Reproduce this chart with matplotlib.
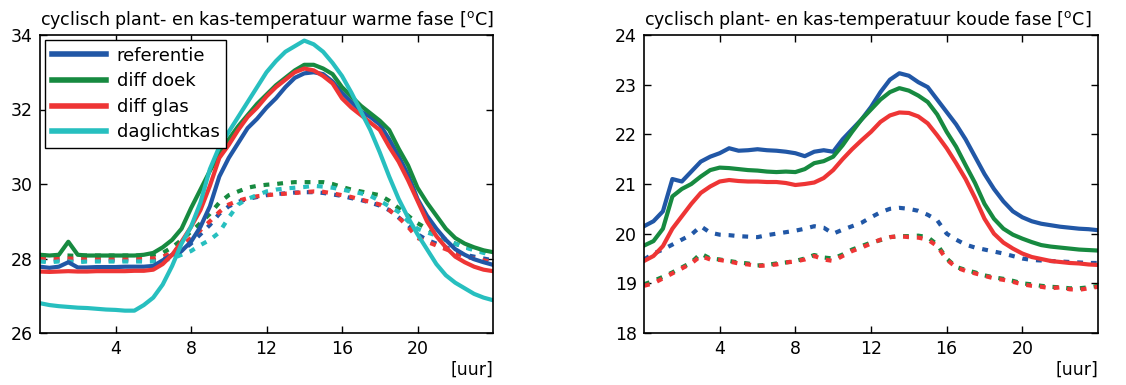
import numpy as np
import matplotlib
matplotlib.use("Agg")
import matplotlib.pyplot as plt

# ---------------- data ----------------
hours = np.arange(0, 24.01, 0.5)

# warm phase: plant temperature (solid)
warm_ref_plant = [27.78, 27.75, 27.78, 27.9, 27.76, 27.76, 27.77, 27.77, 27.77, 27.78, 27.78, 27.78,
                  27.8, 27.95, 28.1, 28.2, 28.45, 28.85, 29.4, 30.2, 30.7, 31.1, 31.5, 31.75,
                  32.05, 32.3, 32.6, 32.85, 32.97, 33.0, 32.95, 32.75, 32.45, 32.2, 31.95, 31.8,
                  31.6, 31.2, 30.75, 30.25, 29.6, 29.15, 28.8, 28.5, 28.25, 28.1, 27.98, 27.9, 27.83]
warm_doek_plant = [28.1, 28.08, 28.1, 28.45, 28.1, 28.08, 28.08, 28.08, 28.08, 28.08, 28.08, 28.1,
                   28.15, 28.3, 28.5, 28.8, 29.35, 29.85, 30.35, 30.8, 31.2, 31.55, 31.85, 32.15,
                   32.4, 32.65, 32.85, 33.05, 33.2, 33.2, 33.1, 32.95, 32.6, 32.35, 32.1, 31.9,
                   31.7, 31.45, 30.95, 30.5, 29.9, 29.5, 29.15, 28.8, 28.55, 28.4, 28.3, 28.22, 28.17]
warm_glas_plant = [27.65, 27.64, 27.65, 27.66, 27.65, 27.65, 27.66, 27.66, 27.66, 27.66, 27.67, 27.67,
                   27.7, 27.85, 28.1, 28.45, 28.85, 29.3, 29.95, 30.7, 31.05, 31.45, 31.8, 32.05,
                   32.35, 32.6, 32.8, 33.0, 33.1, 33.05, 32.9, 32.7, 32.3, 32.05, 31.85, 31.65,
                   31.45, 31.0, 30.6, 30.1, 29.55, 29.0, 28.6, 28.3, 28.05, 27.9, 27.78, 27.7, 27.66]
warm_dag_plant = [26.8, 26.75, 26.72, 26.7, 26.68, 26.67, 26.65, 26.63, 26.62, 26.6, 26.6, 26.75,
                  26.95, 27.3, 27.8, 28.4, 28.85, 29.5, 30.4, 31.0, 31.4, 31.8, 32.2, 32.6,
                  33.0, 33.3, 33.55, 33.7, 33.85, 33.75, 33.55, 33.25, 32.9, 32.45, 31.95, 31.45,
                  30.85, 30.2, 29.6, 29.1, 28.65, 28.25, 27.85, 27.55, 27.35, 27.2, 27.05, 26.95, 26.88]

# warm phase: greenhouse air temperature (dotted)
warm_ref_kas = [27.95, 27.94, 27.95, 27.95, 27.94, 27.95, 27.95, 27.95, 27.95, 27.95, 27.95, 27.95,
                27.95, 27.98, 28.05, 28.2, 28.4, 28.65, 28.9, 29.2, 29.4, 29.52, 29.6, 29.65,
                29.7, 29.73, 29.75, 29.77, 29.78, 29.78, 29.76, 29.72, 29.68, 29.62, 29.57, 29.5,
                29.42, 29.3, 29.1, 28.9, 28.65, 28.5, 28.4, 28.3, 28.2, 28.1, 28.05, 28.0, 27.95]
warm_doek_kas = [28.08, 28.07, 28.08, 28.08, 28.07, 28.08, 28.08, 28.08, 28.08, 28.08, 28.08, 28.08,
                 28.1, 28.15, 28.3, 28.5, 28.72, 28.95, 29.2, 29.5, 29.7, 29.8, 29.9, 29.95,
                 29.98, 30.0, 30.03, 30.05, 30.05, 30.05, 30.05, 30.0, 29.92, 29.85, 29.8, 29.75,
                 29.7, 29.55, 29.35, 29.15, 28.95, 28.8, 28.65, 28.5, 28.4, 28.3, 28.25, 28.2, 28.15]
warm_glas_kas = [28.0, 27.99, 28.0, 28.0, 27.99, 28.0, 28.0, 28.0, 28.0, 28.0, 28.0, 28.0,
                 28.0, 28.05, 28.15, 28.35, 28.55, 28.76, 29.0, 29.25, 29.45, 29.55, 29.62, 29.67,
                 29.7, 29.72, 29.74, 29.76, 29.78, 29.8, 29.79, 29.75, 29.7, 29.65, 29.58, 29.52,
                 29.45, 29.3, 29.1, 28.85, 28.55, 28.45, 28.35, 28.25, 28.15, 28.05, 28.0, 27.95, 27.9]
warm_dag_kas = [27.92, 27.9, 27.92, 27.92, 27.9, 27.92, 27.92, 27.92, 27.92, 27.92, 27.92, 27.92,
                27.92, 27.95, 28.0, 28.1, 28.2, 28.36, 28.5, 28.7, 29.1, 29.45, 29.6, 29.7,
                29.8, 29.85, 29.88, 29.9, 29.92, 29.95, 29.93, 29.9, 29.85, 29.8, 29.75, 29.68,
                29.55, 29.4, 29.25, 29.0, 28.8, 28.7, 28.62, 28.5, 28.4, 28.3, 28.22, 28.15, 28.1]

# cold phase: plant temperature (solid)
cold_ref_plant = [20.15, 20.25, 20.45, 21.1, 21.05, 21.25, 21.45, 21.55, 21.62, 21.72, 21.67, 21.68,
                  21.7, 21.68, 21.67, 21.65, 21.62, 21.56, 21.65, 21.68, 21.65, 21.9, 22.1, 22.3,
                  22.55, 22.85, 23.1, 23.23, 23.18, 23.05, 22.95, 22.7, 22.45, 22.2, 21.9, 21.55,
                  21.2, 20.9, 20.65, 20.45, 20.33, 20.25, 20.2, 20.17, 20.14, 20.12, 20.1, 20.09, 20.07]
cold_doek_plant = [19.76, 19.85, 20.1, 20.75, 20.9, 21.0, 21.15, 21.28, 21.33, 21.32, 21.3, 21.28,
                   21.27, 21.25, 21.24, 21.25, 21.24, 21.3, 21.42, 21.46, 21.55, 21.78, 22.05, 22.3,
                   22.5, 22.7, 22.85, 22.93, 22.88, 22.78, 22.65, 22.4, 22.05, 21.75, 21.38, 21.02,
                   20.6, 20.3, 20.1, 19.98, 19.9, 19.83, 19.77, 19.74, 19.72, 19.7, 19.68, 19.67, 19.66]
cold_glas_plant = [19.45, 19.55, 19.75, 20.1, 20.35, 20.6, 20.82, 20.95, 21.05, 21.08, 21.06, 21.05,
                   21.05, 21.04, 21.04, 21.02, 20.98, 21.0, 21.03, 21.12, 21.28, 21.5, 21.7, 21.88,
                   22.05, 22.25, 22.38, 22.44, 22.43, 22.36, 22.22, 21.98, 21.72, 21.42, 21.1, 20.72,
                   20.3, 20.0, 19.82, 19.7, 19.6, 19.53, 19.49, 19.45, 19.43, 19.41, 19.4, 19.38, 19.37]

# cold phase: greenhouse air temperature (dotted)
cold_ref_kas = [19.48, 19.6, 19.68, 19.78, 19.88, 19.98, 20.15, 20.02, 19.98, 19.97, 19.95, 19.94,
                19.93, 19.97, 20.0, 20.03, 20.06, 20.1, 20.15, 20.12, 20.0, 20.08, 20.15, 20.22,
                20.33, 20.43, 20.5, 20.52, 20.5, 20.46, 20.38, 20.27, 20.0, 19.88, 19.78, 19.72,
                19.68, 19.64, 19.6, 19.55, 19.5, 19.47, 19.46, 19.45, 19.44, 19.43, 19.42, 19.41, 19.41]
cold_doek_kas = [18.98, 19.05, 19.13, 19.22, 19.32, 19.42, 19.6, 19.5, 19.48, 19.45, 19.42, 19.4,
                 19.36, 19.37, 19.4, 19.42, 19.45, 19.5, 19.57, 19.52, 19.5, 19.58, 19.68, 19.75,
                 19.82, 19.87, 19.93, 19.95, 19.95, 19.96, 19.93, 19.78, 19.5, 19.33, 19.27, 19.22,
                 19.16, 19.12, 19.09, 19.05, 19.0, 18.98, 18.95, 18.93, 18.92, 18.9, 18.9, 18.92, 18.95]
cold_glas_kas = [18.95, 19.0, 19.1, 19.2, 19.3, 19.4, 19.55, 19.48, 19.47, 19.44, 19.4, 19.38,
                 19.35, 19.36, 19.38, 19.42, 19.44, 19.48, 19.55, 19.48, 19.45, 19.55, 19.65, 19.72,
                 19.8, 19.88, 19.93, 19.95, 19.93, 19.92, 19.88, 19.75, 19.48, 19.32, 19.25, 19.2,
                 19.15, 19.1, 19.07, 19.03, 18.98, 18.95, 18.93, 18.9, 18.92, 18.88, 18.87, 18.9, 18.93]

legend_labels = ["referentie", "diff doek", "diff glas", "daglichtkas"]
titles = ["cyclisch plant- en kas-temperatuur warme fase [$^{\\mathrm{o}}$C]",
          "cyclisch plant- en kas-temperatuur koude fase [$^{\\mathrm{o}}$C]"]
x_ticks = [4, 8, 12, 16, 20]
warm_yticks = [26, 28, 30, 32, 34]
cold_yticks = [18, 19, 20, 21, 22, 23, 24]
x_label = "[uur]"

# ---------------- style ----------------
C_BLUE = "#2157a6"
C_GREEN = "#178a40"
C_RED = "#ee3535"
C_CYAN = "#27bfbf"
LW = 3.0
DOT = (0, (1.4, 1.9))

plt.rcParams["font.family"] = ["DejaVu Sans"]
fig = plt.figure(figsize=(11.26, 3.85), dpi=100)
ax1 = fig.add_axes([40 / 1126, 52 / 385, 453 / 1126, 298 / 385])
ax2 = fig.add_axes([644 / 1126, 52 / 385, 454 / 1126, 298 / 385])

# left panel
for y, c in [(warm_ref_kas, C_BLUE), (warm_doek_kas, C_GREEN), (warm_glas_kas, C_RED), (warm_dag_kas, C_CYAN)]:
    ax1.plot(hours, y, color=c, lw=LW, linestyle=DOT, dash_capstyle="butt")
handles = []
for y, c, lab in [(warm_ref_plant, C_BLUE, legend_labels[0]), (warm_doek_plant, C_GREEN, legend_labels[1]),
                  (warm_glas_plant, C_RED, legend_labels[2]), (warm_dag_plant, C_CYAN, legend_labels[3])]:
    h, = ax1.plot(hours, y, color=c, lw=LW, label=lab)
    handles.append(h)

# right panel
for y, c in [(cold_ref_kas, C_BLUE), (cold_doek_kas, C_GREEN), (cold_glas_kas, C_RED)]:
    ax2.plot(hours, y, color=c, lw=LW, linestyle=DOT, dash_capstyle="butt")
for y, c in [(cold_ref_plant, C_BLUE), (cold_doek_plant, C_GREEN), (cold_glas_plant, C_RED)]:
    ax2.plot(hours, y, color=c, lw=LW)

for ax, yt, title in [(ax1, warm_yticks, titles[0]), (ax2, cold_yticks, titles[1])]:
    ax.set_xlim(0, 24)
    ax.set_ylim(yt[0], yt[-1])
    ax.set_xticks(x_ticks)
    ax.set_yticks(yt)
    ax.tick_params(direction="in", top=True, right=True, length=5, width=1,
                   labelsize=12.5, pad=5)
    for s in ax.spines.values():
        s.set_linewidth(1.2)
    ax.text(0.0, 1.012, title, transform=ax.transAxes, ha="left", va="bottom", fontsize=12.6)
    ax.set_xlabel(x_label, loc="right", fontsize=12.5, labelpad=2)

leg = ax1.legend(handles=handles, loc="upper left", fontsize=13, frameon=True, fancybox=False,
                 edgecolor="black", framealpha=1, handlelength=3.0, handletextpad=0.6,
                 borderpad=0.35, labelspacing=0.42, borderaxespad=0.3)
leg.get_frame().set_linewidth(1.0)
for line in leg.get_lines():
    line.set_linewidth(4.0)

fig.savefig("out.png", dpi=100)
